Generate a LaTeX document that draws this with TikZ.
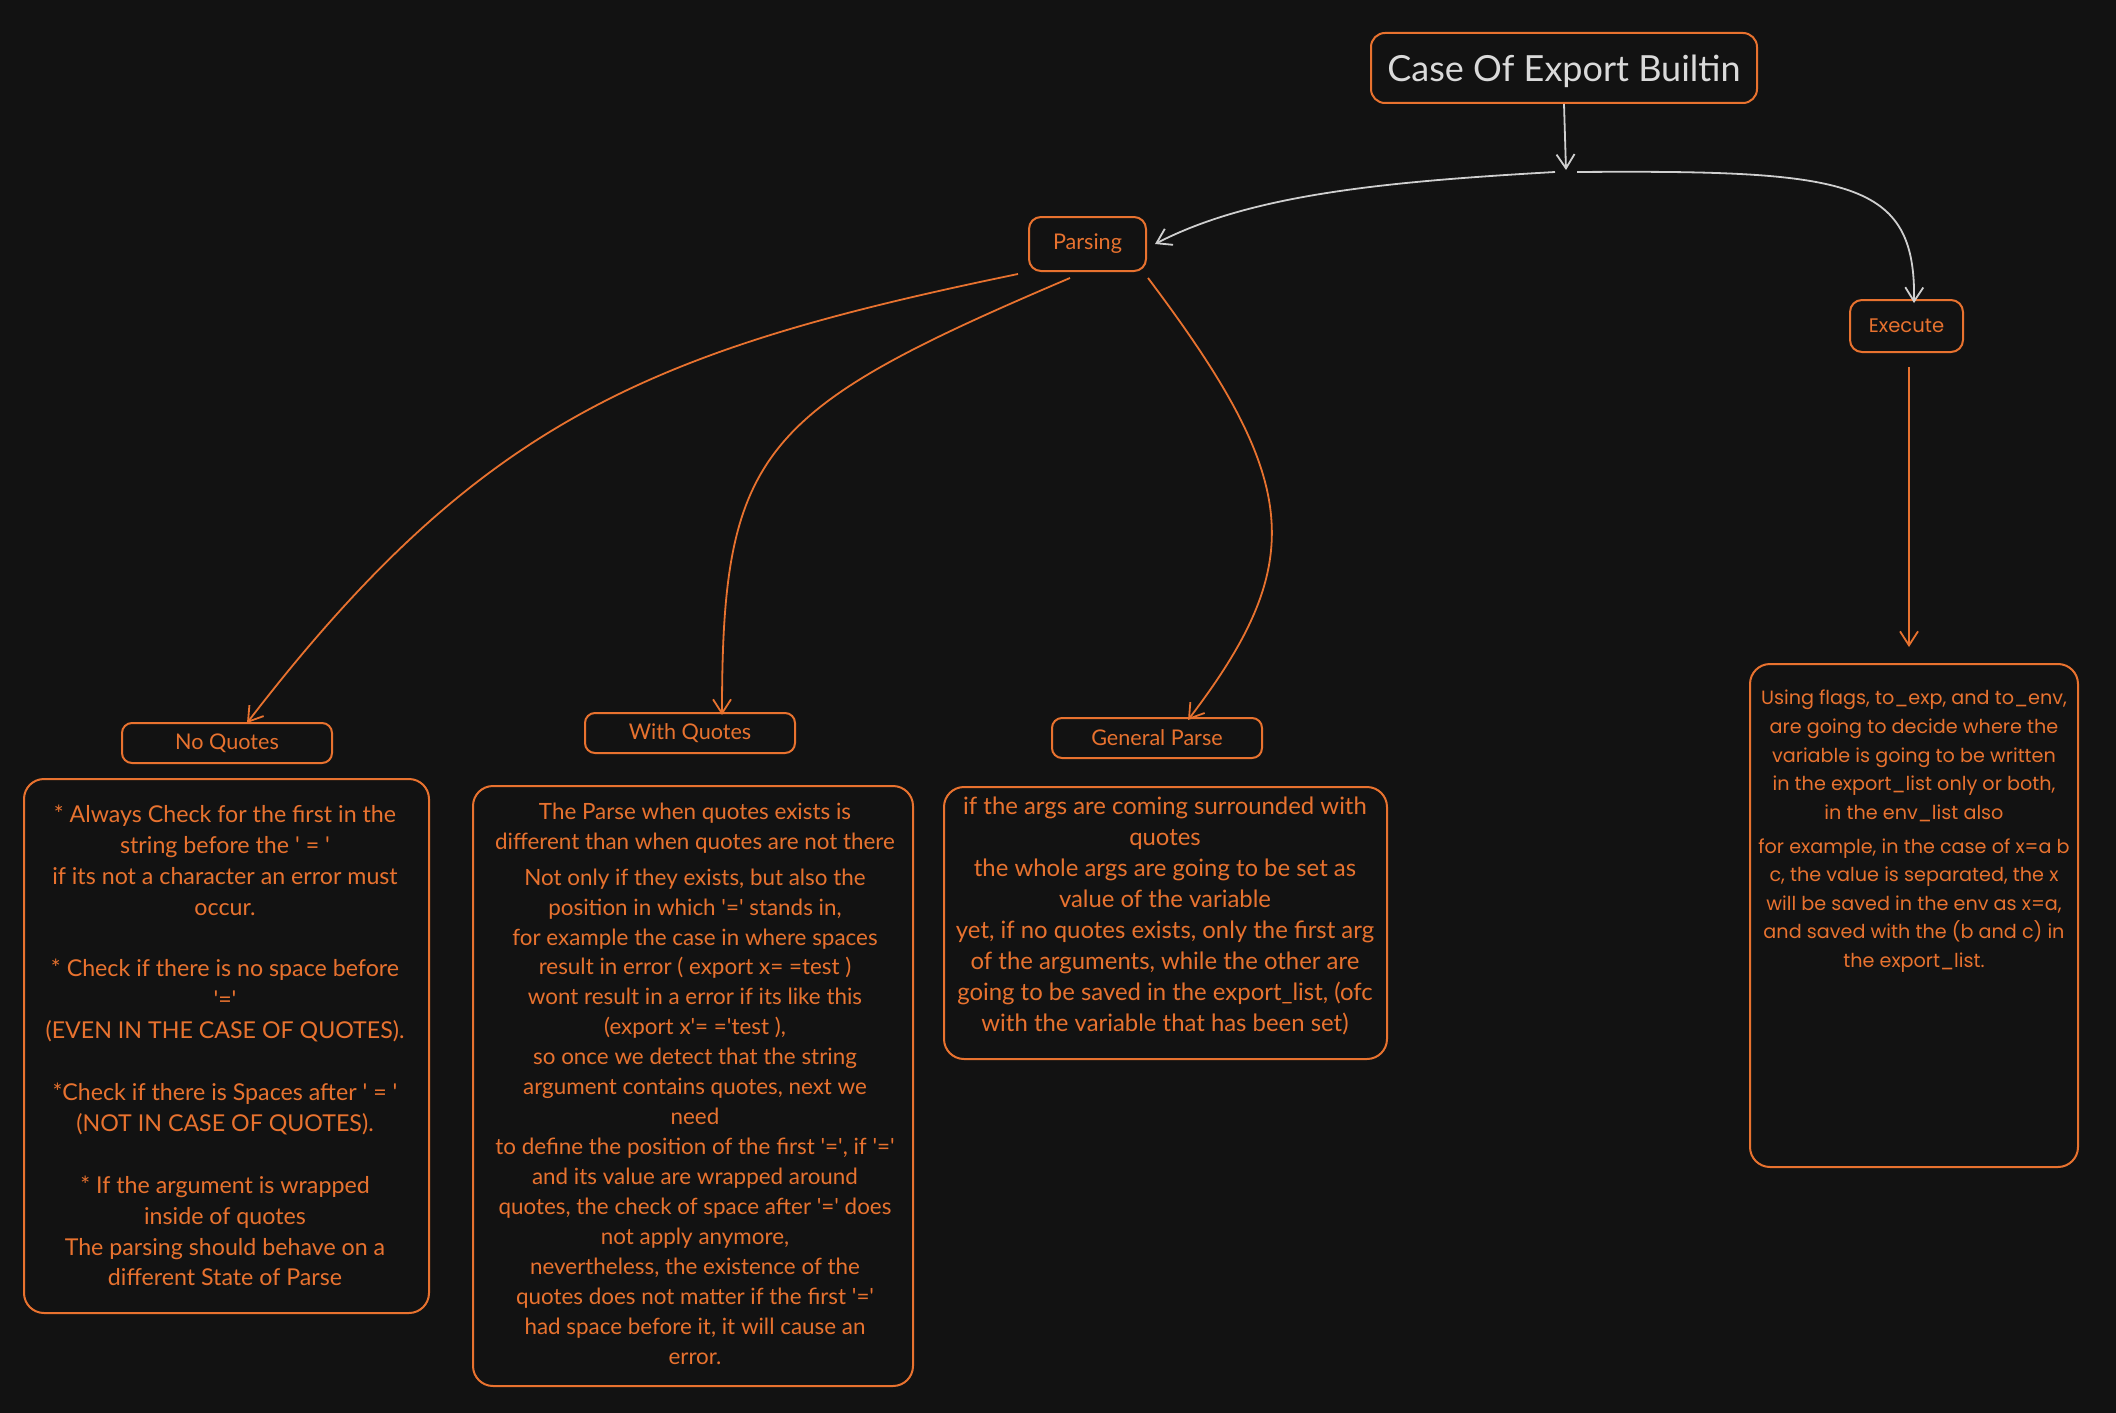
\documentclass[tikz,border=0pt]{standalone}
\usepackage{fontspec}
\setmainfont{Lato}
\newfontfamily\widefont{Poppins}
\usetikzlibrary{arrows.meta}
\definecolor{bg}{HTML}{121212}
\definecolor{org}{HTML}{E8722F}
\definecolor{lgray}{HTML}{DADADA}
\definecolor{agray}{HTML}{CFCFCF}
\newcommand{\myq}{\textquotesingle}
\begin{document}
\begin{tikzpicture}[x=0.5pt,y=-0.5pt,
  box/.style={draw=org, line width=1pt, inner sep=0pt, fill=bg},
  lblbox/.style={box, rounded corners=5pt, text=org, font=\fontsize{10.8}{13}\selectfont},
  bigbox/.style={box, rounded corners=10pt},
  txt/.style={text=org, align=center, inner sep=0pt, font=\fontsize{11.2}{15.45}\selectfont},
  extxt/.style={text=org, align=center, inner sep=0pt, font=\widefont\fontsize{9.6}{14.3}\selectfont},
  con/.style={draw=org, line width=0.9pt, -{Straight Barb[length=7pt,width=9pt]}},
  gcon/.style={con, draw=agray}]
\useasboundingbox (0,0) rectangle (2116,1413);
\fill[bg] (0,0) rectangle (2116,1413);

% title
\node[box, rounded corners=7pt, minimum width=193pt, minimum height=35pt,
      text height=17pt, text depth=3.8pt,
      text=lgray, font=\fontsize{18}{22}\selectfont] (title) at (1564,68) {Case Of Export Builtin};
\coordinate (forkL) at (1555,172);
\coordinate (forkR) at (1577,172);

% level 1
\node[lblbox, rounded corners=6pt, minimum width=58.5pt, minimum height=27pt] (parse) at (1087.5,244) {Parsing};
\node[lblbox, rounded corners=6pt, minimum width=56.5pt, minimum height=26pt,
      font=\widefont\fontsize{9.8}{12}\selectfont] (execl) at (1906.5,326) {Execute};

% level 2 labels
\node[lblbox, minimum width=105pt, minimum height=20pt] (nq) at (227,743) {No Quotes};
\node[lblbox, minimum width=105pt, minimum height=20pt] (wq) at (690,733) {With Quotes};
\node[lblbox, minimum width=105pt, minimum height=20pt] (gp) at (1157,738) {General Parse};

% big boxes
\node[bigbox, minimum width=202.5pt, minimum height=267pt] (nqbox) at (226.5,1046) {};
\node[bigbox, minimum width=220pt, minimum height=300pt] (wqbox) at (693,1086) {};
\node[bigbox, minimum width=221.5pt, minimum height=136pt] (gpbox) at (1165.5,923) {};
\node[bigbox, minimum width=164pt, minimum height=251.5pt] (exbox) at (1914,915.5) {};

% texts
\node[txt, font=\fontsize{11.6}{15.45}\selectfont] (nqtxt) at (225,1045.5) {* Always Check for the first in the\\
string before the \myq\ = \myq\\
if its not a character an error must\\
occur.\\[15.45pt]
* Check if there is no space before\\
\myq=\myq\\
(EVEN IN THE CASE OF QUOTES).\\[15.45pt]
*Check if there is Spaces after \myq\ = \myq\\
(NOT IN CASE OF QUOTES).\\[15.45pt]
* If the argument is wrapped\\
inside of quotes\\
The parsing should behave on a\\
different State of Parse};

\node[txt, font=\fontsize{11.2}{15}\selectfont] (wq1) at (695,828) {The Parse when quotes exists is\\
different than when quotes are not there};
\node[txt, font=\fontsize{11.2}{14.97}\selectfont] (wq2) at (695,1116.5) {Not only if they exists, but also the\\
position in which \myq=\myq\ stands in,\\
for example the case in where spaces\\
result in error ( export x= =test )\\
wont result in a error if its like this\\
(export x\myq= =\myq test ),\\
so once we detect that the string\\
argument contains quotes, next we\\
need\\
to define the position of the first \myq=\myq, if \myq=\myq\\
and its value are wrapped around\\
quotes, the check of space after \myq=\myq\ does\\
not apply anymore,\\
nevertheless, the existence of the\\
quotes does not matter if the first \myq=\myq\\
had space before it, it will cause an\\
error.};

\node[txt, font=\fontsize{11.95}{15.55}\selectfont] (gptxt) at (1165,916) {if the args are coming surrounded with\\
quotes\\
the whole args are going to be set as\\
value of the variable\\
yet, if no quotes exists, only the first arg\\
of the arguments, while the other are\\
going to be saved in the export\_list, (ofc\\
with the variable that has been set)};

\node[extxt] (ex1) at (1914,756) {Using flags, to\_exp, and to\_env,\\
are going to decide where the\\
variable is going to be written\\
in the export\_list only or both,\\
in the env\_list also};
\node[extxt] (ex2) at (1914,905.5) {for example, in the case of x=a b\\
c, the value is separated, the x\\
will be saved in the env as x=a,\\
and saved with the (b and c) in\\
the export\_list.};

% connectors
\coordinate (exs) at ([xshift=1.25pt,yshift=-7pt]execl.south);
\draw[gcon] (title.south) -- (1566,170);
\draw[gcon] (forkL) .. controls (1380,182) and (1250,195) .. ([xshift=4pt]parse.east);
\draw[gcon] (forkR) .. controls (1850,170) and (1916,180) .. ([xshift=3.75pt,yshift=-2pt]execl.north);

\draw[con] ([xshift=-5pt,yshift=-1pt]parse.south west) .. controls (650,350) and (480,420) .. ([xshift=10pt,yshift=-0.5pt]nq.north);
\draw[con] ([xshift=-8.75pt,yshift=-3pt]parse.south) .. controls (760,410) and (722,450) .. ([xshift=16pt,yshift=-1.5pt]wq.north);
\draw[con] ([xshift=0.5pt,yshift=-3pt]parse.south east) .. controls (1300,480) and (1310,560) .. ([xshift=15.5pt,yshift=-1.5pt]gp.north);
\draw[con, shorten >=8pt] (exs) -- (exs |- exbox.north);
\end{tikzpicture}
\end{document}
